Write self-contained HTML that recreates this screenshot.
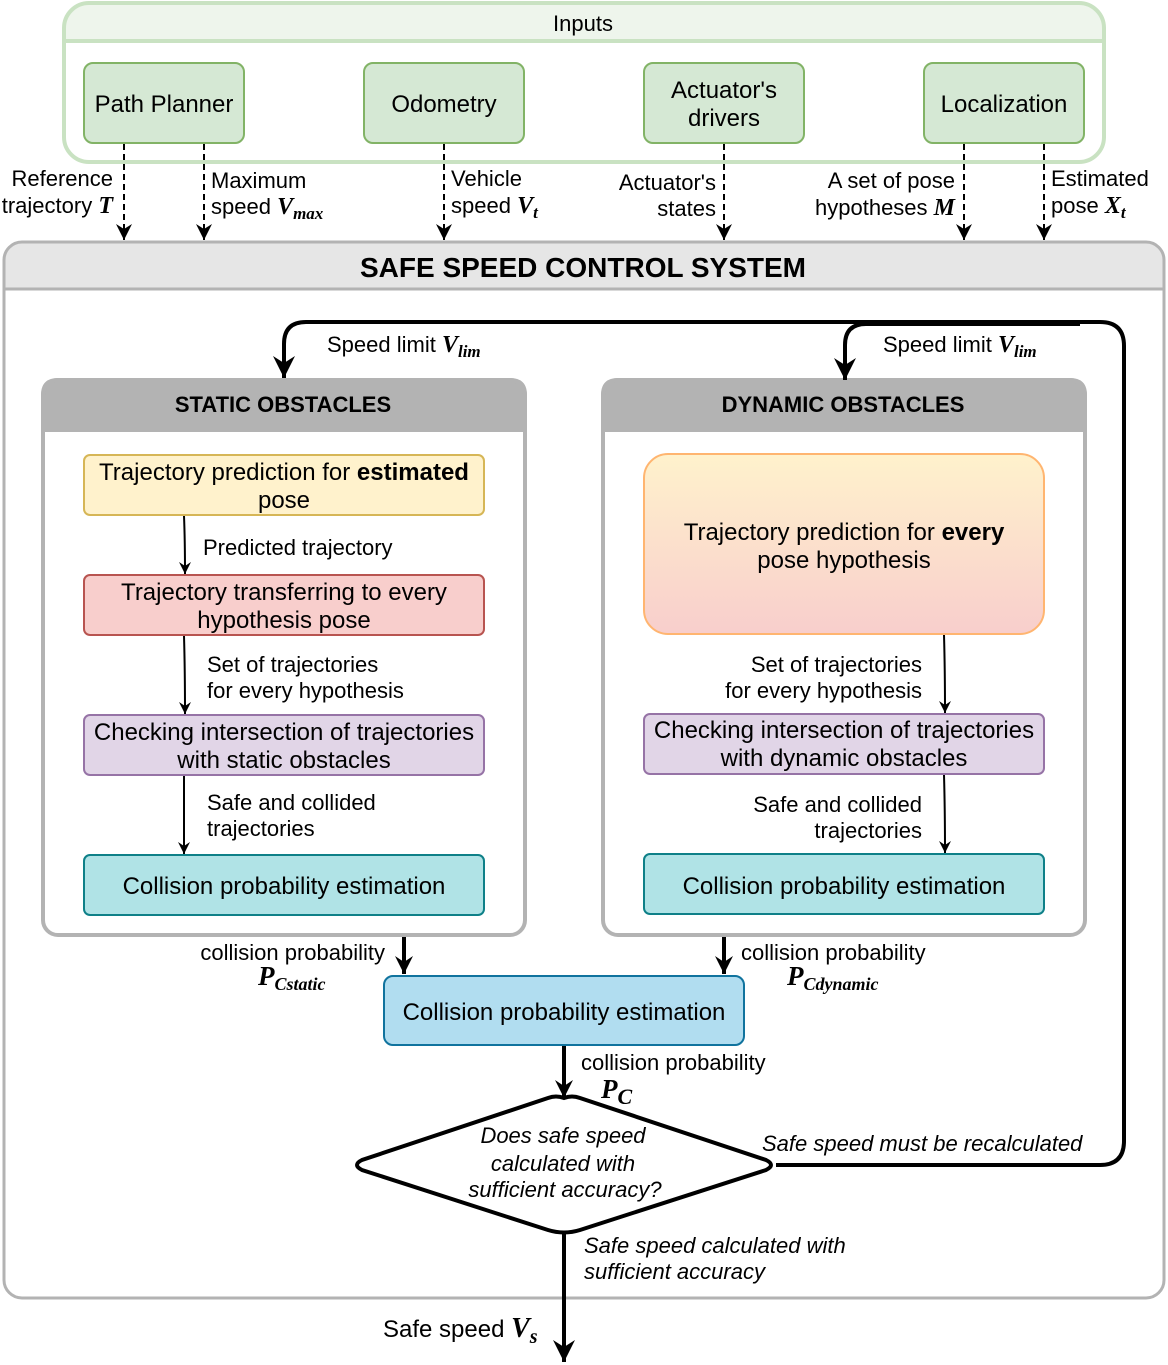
<!DOCTYPE html>
<html><head><meta charset="utf-8"><style>body{margin:0;background:#fff}svg{display:block}text{font-family:"Liberation Sans",sans-serif;fill:#000}.m{font-family:"Liberation Serif",serif;font-style:italic;font-weight:bold}</style></head><body>
<svg width="1168" height="1365" viewBox="0 0 1168 1365" xmlns="http://www.w3.org/2000/svg">
<defs>
<marker id="a" markerWidth="12" markerHeight="12" refX="12" refY="6" orient="auto" markerUnits="userSpaceOnUse" viewBox="0 0 12 12"><path d="M0,0 L12,6 L0,12 L4,6 Z" fill="#000"/></marker>
<marker id="d" markerWidth="16" markerHeight="16" refX="16" refY="8" orient="auto" markerUnits="userSpaceOnUse" viewBox="0 0 16 16"><path d="M0,0 L16,8 L0,16 L5,8 Z" fill="#000"/></marker>
<marker id="b" markerWidth="18" markerHeight="18" refX="18" refY="9" orient="auto" markerUnits="userSpaceOnUse" viewBox="0 0 18 18"><path d="M0,0 L18,9 L0,18 L6,9 Z" fill="#000"/></marker>
<marker id="c" markerWidth="22" markerHeight="22" refX="22" refY="11" orient="auto" markerUnits="userSpaceOnUse" viewBox="0 0 22 22"><path d="M0,0 L22,11 L0,22 L7,11 Z" fill="#000"/></marker>
<linearGradient id="g" x1="0" y1="0" x2="0" y2="1"><stop offset="0" stop-color="#fff2cc"/><stop offset="1" stop-color="#f8cecc"/></linearGradient>
</defs>
<path d="M64,41 V28 Q64,3 89,3 H1079 Q1104,3 1104,28 V41 Z" fill="#eef5ec"/>
<rect x="64" y="3" width="1040" height="159" rx="25" fill="none" stroke="#c9e2c2" stroke-width="4"/>
<line x1="64" y1="41" x2="1104" y2="41" stroke="#c9e2c2" stroke-width="4"/>
<text x="583" y="31" font-size="22" text-anchor="middle">Inputs</text>
<g fill="#d5e8d4" stroke="#82b366" stroke-width="2">
<rect x="84" y="63" width="160" height="80" rx="9"/><rect x="364" y="63" width="160" height="80" rx="9"/><rect x="644" y="63" width="160" height="80" rx="9"/><rect x="924" y="63" width="160" height="80" rx="9"/></g>
<g font-size="24" text-anchor="middle"><text x="164" y="112">Path Planner</text><text x="444" y="112">Odometry</text><text x="724" y="98">Actuator's</text><text x="724" y="126">drivers</text><text x="1004" y="112">Localization</text></g>
<g stroke="#000" stroke-width="2" stroke-dasharray="6,4" marker-end="url(#d)">
<line x1="124" y1="144" x2="124" y2="240"/><line x1="204" y1="144" x2="204" y2="240"/><line x1="444" y1="144" x2="444" y2="240"/><line x1="724" y1="144" x2="724" y2="240"/><line x1="964" y1="144" x2="964" y2="240"/><line x1="1044" y1="144" x2="1044" y2="240"/></g>
<g font-size="22">
<text x="113" y="186" text-anchor="end">Reference</text><text x="113" y="213" text-anchor="end">trajectory <tspan class="m" font-size="24">T</tspan></text>
<text x="211" y="188">Maximum</text><text x="211" y="214">speed <tspan class="m" font-size="24">V</tspan><tspan class="m" font-size="17" dy="5">max</tspan></text>
<text x="451" y="186">Vehicle</text><text x="451" y="213">speed <tspan class="m" font-size="24">V</tspan><tspan class="m" font-size="17" dy="5">t</tspan></text>
<text x="716" y="190" text-anchor="end">Actuator's</text><text x="716" y="216" text-anchor="end">states</text>
<text x="955" y="188" text-anchor="end">A set of pose</text><text x="955" y="215" text-anchor="end">hypotheses <tspan class="m" font-size="24">M</tspan></text>
<text x="1051" y="186">Estimated</text><text x="1051" y="213">pose <tspan class="m" font-size="24">X</tspan><tspan class="m" font-size="17" dy="5">t</tspan></text>
</g>
<path d="M4,289 V260 Q4,242 22,242 H1146 Q1164,242 1164,260 V289 Z" fill="#e6e6e6"/>
<rect x="4" y="242" width="1160" height="1056" rx="18" fill="none" stroke="#b3b3b3" stroke-width="3"/>
<line x1="4" y1="289" x2="1164" y2="289" stroke="#b3b3b3" stroke-width="3"/>
<text x="583" y="277" font-size="28" font-weight="bold" text-anchor="middle">SAFE SPEED CONTROL SYSTEM</text>
<g stroke="#b3b3b3" stroke-width="4">
<path d="M43,430 V395 Q43,380 58,380 H510 Q525,380 525,395 V430 Z" fill="#b3b3b3"/>
<rect x="43" y="380" width="482" height="555" rx="15" fill="none"/>
<path d="M603,430 V395 Q603,380 618,380 H1070 Q1085,380 1085,395 V430 Z" fill="#b3b3b3"/>
<rect x="603" y="380" width="482" height="555" rx="15" fill="none"/>
</g>
<g font-size="22" font-weight="bold" text-anchor="middle"><text x="283" y="412">STATIC OBSTACLES</text><text x="843" y="412">DYNAMIC OBSTACLES</text></g>
<g stroke-width="2">
<rect x="84" y="455" width="400" height="60" rx="6" fill="#fff2cc" stroke="#d6b656"/>
<rect x="84" y="575" width="400" height="60" rx="6" fill="#f8cecc" stroke="#b85450"/>
<rect x="84" y="715" width="400" height="60" rx="6" fill="#e1d5e7" stroke="#9673a6"/>
<rect x="84" y="855" width="400" height="60" rx="6" fill="#b0e3e6" stroke="#0e8088"/>
<rect x="644" y="454" width="400" height="180" rx="24" fill="url(#g)" stroke="#ffb570"/>
<rect x="644" y="714" width="400" height="60" rx="6" fill="#e1d5e7" stroke="#9673a6"/>
<rect x="644" y="854" width="400" height="60" rx="6" fill="#b0e3e6" stroke="#0e8088"/>
<rect x="384" y="976" width="360" height="69" rx="9" fill="#b1ddf0" stroke="#10739e"/>
</g>
<g font-size="24" text-anchor="middle">
<text x="284" y="480">Trajectory prediction for <tspan font-weight="bold">estimated</tspan></text><text x="284" y="508">pose</text>
<text x="284" y="600">Trajectory transferring to every</text><text x="284" y="628">hypothesis pose</text>
<text x="284" y="740">Checking intersection of trajectories</text><text x="284" y="768">with static obstacles</text>
<text x="284" y="894">Collision probability estimation</text>
<text x="844" y="540">Trajectory prediction for <tspan font-weight="bold">every</tspan></text><text x="844" y="568">pose hypothesis</text>
<text x="844" y="738">Checking intersection of trajectories</text><text x="844" y="766">with dynamic obstacles</text>
<text x="844" y="894">Collision probability estimation</text>
<text x="564" y="1020">Collision probability estimation</text>
</g>
<g stroke="#000" stroke-width="2" fill="none" marker-end="url(#a)">
<path d="M184,516 Q185,540 185,574"/><path d="M184,636 Q185,670 185,714"/><path d="M184,776 L184,854"/>
<path d="M944,635 Q945,670 945,713"/><path d="M944,775 Q945,810 945,853"/>
</g>
<g font-size="22">
<text x="203" y="555">Predicted trajectory</text>
<text x="207" y="672">Set of trajectories</text><text x="207" y="698">for every hypothesis</text>
<text x="207" y="810">Safe and collided</text><text x="207" y="836">trajectories</text>
<text x="922" y="672" text-anchor="end">Set of trajectories</text><text x="922" y="698" text-anchor="end">for every hypothesis</text>
<text x="922" y="812" text-anchor="end">Safe and collided</text><text x="922" y="838" text-anchor="end">trajectories</text>
</g>
<g stroke="#000" stroke-width="4" fill="none">
<line x1="404" y1="937" x2="404" y2="974" marker-end="url(#b)"/>
<line x1="724" y1="937" x2="724" y2="974" marker-end="url(#b)"/>
<line x1="564" y1="1046" x2="564" y2="1098" marker-end="url(#b)"/>
<line x1="564" y1="1232" x2="564" y2="1362" marker-end="url(#c)"/>
<path d="M776,1165 H1100 Q1124,1165 1124,1141 V346 Q1124,322 1100,322 H306 Q284,322 284,344 V378" marker-end="url(#c)"/>
<path d="M1080,324 H866 Q845,324 845,345 V380" marker-end="url(#c)"/>
<path d="M564,1098 Q572,1095 580,1098 L766,1160 Q776,1165 766,1170 L580,1230 Q564,1235 548,1230 L362,1170 Q352,1165 362,1160 L548,1098 Q556,1095 564,1098 Z" fill="#fff"/>
</g>
<g font-size="22">
<text x="327" y="352">Speed limit <tspan class="m" font-size="24">V</tspan><tspan class="m" font-size="17" dy="5">lim</tspan></text>
<text x="883" y="352">Speed limit <tspan class="m" font-size="24">V</tspan><tspan class="m" font-size="17" dy="5">lim</tspan></text>
<text x="385" y="960" text-anchor="end">collision probability</text>
<text x="258" y="985"><tspan class="m" font-size="27">P</tspan><tspan class="m" font-size="18" dy="5">Cstatic</tspan></text>
<text x="741" y="960">collision probability</text>
<text x="787" y="985"><tspan class="m" font-size="27">P</tspan><tspan class="m" font-size="18" dy="5">Cdynamic</tspan></text>
<text x="581" y="1070">collision probability</text>
<text x="601" y="1098"><tspan class="m" font-size="27">P</tspan><tspan class="m" font-size="22" dy="6">C</tspan></text>
<g font-style="italic">
<text x="563" y="1143" text-anchor="middle">Does safe speed</text><text x="563" y="1171" text-anchor="middle">calculated with</text><text x="565" y="1197" text-anchor="middle">sufficient accuracy?</text>
<text x="762" y="1151">Safe speed must be recalculated</text>
<text x="584" y="1253">Safe speed calculated with</text><text x="584" y="1279">sufficient accuracy</text>
</g>
<text x="383" y="1337" font-size="24">Safe speed <tspan class="m" font-size="28">V</tspan><tspan class="m" font-size="20" dy="6">s</tspan></text>
</g>
</svg>
</body></html>
